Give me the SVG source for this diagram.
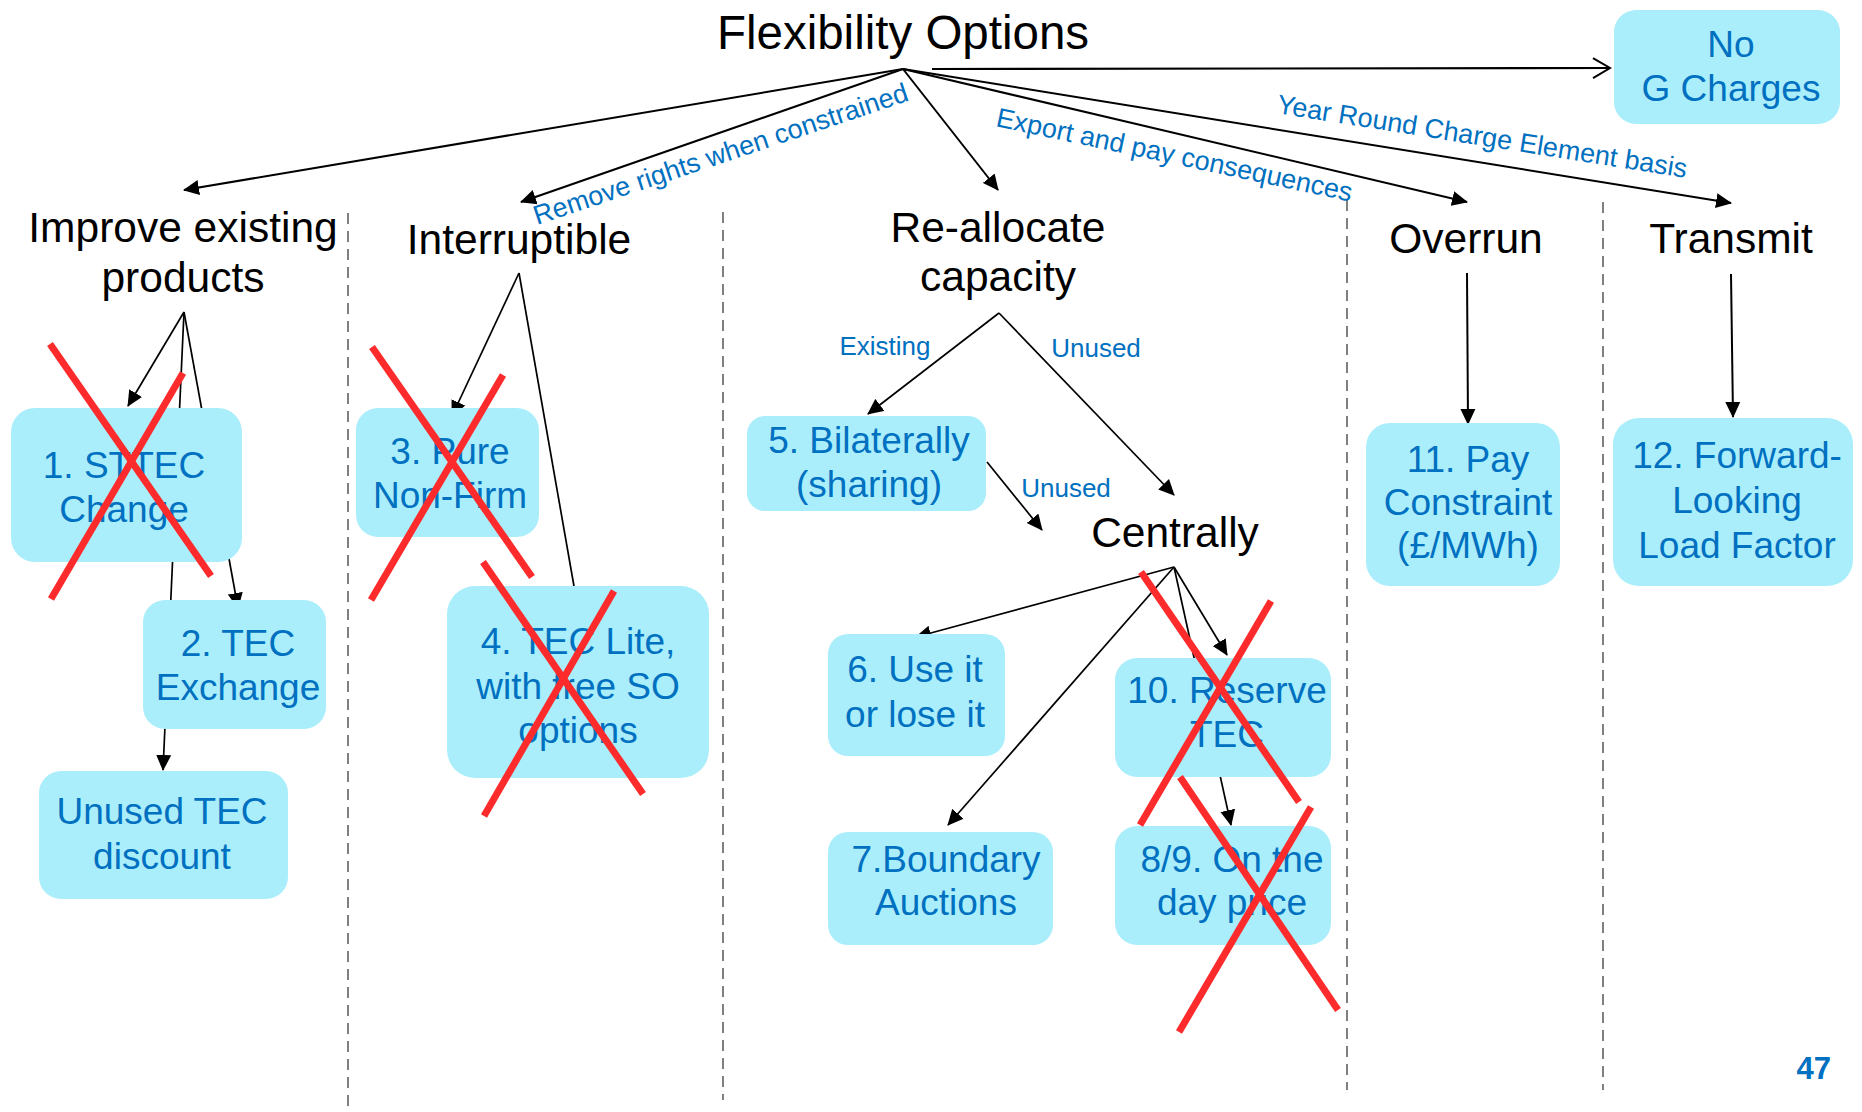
<svg xmlns="http://www.w3.org/2000/svg" width="1862" height="1112" viewBox="0 0 1862 1112">
  <defs>
    <marker id="arrow" viewBox="0 0 16 16" refX="15" refY="8" markerWidth="16" markerHeight="16" markerUnits="userSpaceOnUse" orient="auto">
      <path d="M0,0.5 L16,8 L0,15.5 z" fill="#000"/>
    </marker>
    <marker id="open" viewBox="0 0 20 22" refX="18" refY="11" markerWidth="20" markerHeight="22" markerUnits="userSpaceOnUse" orient="auto">
      <path d="M1,1 L18,11 L1,21" fill="none" stroke="#000" stroke-width="2"/>
    </marker>
  </defs>
  <style>
    text { font-family: "Liberation Sans", Arial, Helvetica, sans-serif; }
    .title { font-size: 47.5px; fill: #000; text-anchor: middle; }
    .head { font-size: 42.5px; fill: #000; text-anchor: middle; }
    .box { fill: #aaeefc; }
    .bt { font-size: 37px; fill: #0070c0; text-anchor: middle; }
    .el { font-size: 27px; fill: #0070c0; }
    .elc { font-size: 26px; fill: #0070c0; text-anchor: middle; }
    .sep { stroke: #808080; stroke-width: 2; stroke-dasharray: 11 7; fill: none; }
    .c { stroke: #000; stroke-width: 2; fill: none; marker-end: url(#arrow); }
    .c2 { stroke: #000; stroke-width: 1.7; fill: none; marker-end: url(#arrow); }
    .strike { stroke: #fd2b2b; stroke-width: 7; fill: none; }
    .pg { font-size: 31px; font-weight: bold; fill: #0070c0; text-anchor: end; }
  </style>

  <rect width="1862" height="1112" fill="#fff"/>

  <!-- column separators -->
  <g id="separators">
    <line class="sep" x1="348" y1="213" x2="348" y2="1112"/>
    <line class="sep" x1="723" y1="212" x2="723" y2="1100"/>
    <line class="sep" x1="1347" y1="200" x2="1347" y2="1090"/>
    <line class="sep" x1="1603" y1="202" x2="1603" y2="1090"/>
  </g>

  <!-- connectors (drawn beneath the boxes) -->
  <g id="connectors">
    <line class="c" x1="903" y1="69" x2="184" y2="190"/>
    <line class="c" x1="903" y1="69" x2="521" y2="202"/>
    <line class="c" x1="903" y1="69" x2="998" y2="190"/>
    <line class="c" x1="903" y1="69" x2="1467" y2="202"/>
    <line class="c" x1="903" y1="69" x2="1731" y2="203"/>
    <line stroke="#000" stroke-width="2.2" fill="none" marker-end="url(#open)" x1="932" y1="69" x2="1610" y2="68"/>

    <line class="c2" x1="184" y1="312" x2="128" y2="406"/>
    <line class="c2" x1="184" y1="312" x2="238" y2="608"/>
    <line class="c2" x1="184" y1="312" x2="163" y2="770"/>

    <line class="c2" x1="519" y1="273" x2="452" y2="416"/>
    <line class="c2" x1="519" y1="273" x2="578" y2="609"/>

    <line class="c2" x1="999" y1="313" x2="868" y2="414"/>
    <line class="c2" x1="999" y1="313" x2="1174" y2="495"/>
    <line class="c2" x1="987" y1="462" x2="1042" y2="530"/>

    <line class="c2" x1="1174" y1="567" x2="916" y2="637"/>
    <line class="c2" x1="1174" y1="567" x2="948" y2="825"/>
    <line class="c2" x1="1174" y1="567" x2="1227" y2="655"/>
    <line class="c2" x1="1174" y1="567" x2="1231" y2="825"/>

    <line class="c" x1="1467" y1="273" x2="1468" y2="424"/>
    <line class="c" x1="1731" y1="274" x2="1733" y2="417"/>

    <text class="el" transform="translate(537 225) rotate(-18.5)">Remove rights when constrained</text>
    <text class="el" transform="translate(995 126) rotate(12)">Export and pay consequences</text>
    <text class="el" transform="translate(1276 113) rotate(9)">Year Round Charge Element basis</text>
    <text class="elc" x="885" y="355">Existing</text>
    <text class="elc" x="1096" y="357">Unused</text>
    <text class="elc" x="1066" y="497">Unused</text>
  </g>

  <!-- root and category headings -->
  <g id="root"><text class="title" x="903" y="49">Flexibility Options</text></g>
  <g id="improve"><text class="head" x="183" y="242">Improve existing</text><text class="head" x="183" y="292">products</text></g>
  <g id="interruptible"><text class="head" x="519" y="254">Interruptible</text></g>
  <g id="reallocate"><text class="head" x="998" y="242">Re-allocate</text><text class="head" x="998" y="291">capacity</text></g>
  <g id="overrun"><text class="head" x="1466" y="253">Overrun</text></g>
  <g id="transmit"><text class="head" x="1731" y="253">Transmit</text></g>
  <g id="centrally"><text class="head" x="1175" y="547">Centrally</text></g>

  <!-- option boxes -->
  <g id="no-g-charges">
    <rect class="box" x="1614" y="10" width="226" height="114" rx="22"/>
    <text class="bt" x="1731" y="57">No</text>
    <text class="bt" x="1731" y="101">G Charges</text>
  </g>
  <g id="opt1">
    <rect class="box" x="11" y="408" width="231" height="154" rx="24"/>
    <text class="bt" x="124" y="478">1. STTEC</text>
    <text class="bt" x="124" y="522">Change</text>
  </g>
  <g id="opt2">
    <rect class="box" x="143" y="600" width="183" height="129" rx="22"/>
    <text class="bt" x="238" y="656">2. TEC</text>
    <text class="bt" x="238" y="700">Exchange</text>
  </g>
  <g id="unused-tec">
    <rect class="box" x="39" y="771" width="249" height="128" rx="22"/>
    <text class="bt" x="162" y="824">Unused TEC</text>
    <text class="bt" x="162" y="869">discount</text>
  </g>
  <g id="opt3">
    <rect class="box" x="356" y="408" width="183" height="129" rx="22"/>
    <text class="bt" x="450" y="464">3. Pure</text>
    <text class="bt" x="450" y="508">Non-Firm</text>
  </g>
  <g id="opt4">
    <rect class="box" x="447" y="586" width="262" height="192" rx="28"/>
    <text class="bt" x="578" y="654">4. TEC Lite,</text>
    <text class="bt" x="578" y="699">with free SO</text>
    <text class="bt" x="578" y="743">options</text>
  </g>
  <g id="opt5">
    <rect class="box" x="747" y="416" width="239" height="95" rx="18"/>
    <text class="bt" x="869" y="453">5. Bilaterally</text>
    <text class="bt" x="869" y="497">(sharing)</text>
  </g>
  <g id="opt6">
    <rect class="box" x="828" y="634" width="177" height="122" rx="20"/>
    <text class="bt" x="915" y="682">6. Use it</text>
    <text class="bt" x="915" y="727">or lose it</text>
  </g>
  <g id="opt7">
    <rect class="box" x="828" y="832" width="225" height="113" rx="20"/>
    <text class="bt" x="946" y="872">7.Boundary</text>
    <text class="bt" x="946" y="915">Auctions</text>
  </g>
  <g id="opt10">
    <rect class="box" x="1115" y="658" width="216" height="119" rx="22"/>
    <text class="bt" x="1227" y="703">10. Reserve</text>
    <text class="bt" x="1227" y="747">TEC</text>
  </g>
  <g id="opt8-9">
    <rect class="box" x="1115" y="826" width="216" height="119" rx="22"/>
    <text class="bt" x="1232" y="872">8/9. On the</text>
    <text class="bt" x="1232" y="915">day price</text>
  </g>
  <g id="opt11">
    <rect class="box" x="1366" y="423" width="194" height="163" rx="24"/>
    <text class="bt" x="1468" y="472">11. Pay</text>
    <text class="bt" x="1468" y="515">Constraint</text>
    <text class="bt" x="1468" y="558">(£/MWh)</text>
  </g>
  <g id="opt12">
    <rect class="box" x="1613" y="418" width="240" height="168" rx="26"/>
    <text class="bt" x="1737" y="468">12. Forward-</text>
    <text class="bt" x="1737" y="513">Looking</text>
    <text class="bt" x="1737" y="558">Load Factor</text>
  </g>

  <!-- rejected options struck through -->
  <g id="strikes">
    <line class="strike" x1="50" y1="344" x2="211" y2="576"/>
    <line class="strike" x1="183" y1="373" x2="51" y2="599"/>
    <line class="strike" x1="372" y1="347" x2="532" y2="577"/>
    <line class="strike" x1="503" y1="375" x2="371" y2="600"/>
    <line class="strike" x1="483" y1="562" x2="643" y2="794"/>
    <line class="strike" x1="614" y1="591" x2="484" y2="816"/>
    <line class="strike" x1="1141" y1="572" x2="1299" y2="802"/>
    <line class="strike" x1="1271" y1="601" x2="1140" y2="825"/>
    <line class="strike" x1="1180" y1="777" x2="1338" y2="1010"/>
    <line class="strike" x1="1311" y1="807" x2="1179" y2="1032"/>
  </g>

  <text class="pg" x="1831" y="1079">47</text>
</svg>
